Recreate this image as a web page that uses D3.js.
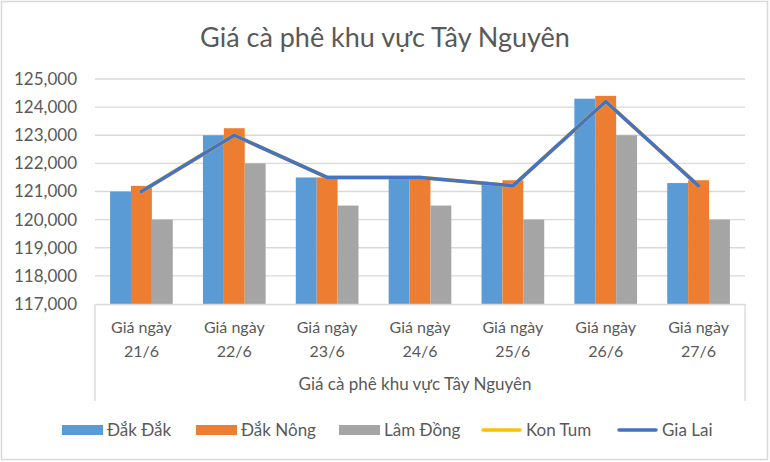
<!DOCTYPE html>
<html><head><meta charset="utf-8">
<script src="https://cdn.jsdelivr.net/npm/d3@7"></script>
<style>
html,body{margin:0;padding:0;background:#fff;}
text{font-family:Lato,"Noto Sans",sans-serif;fill:#595959;}
</style></head>
<body><svg id="c" width="770" height="462"></svg>
<script>
const categories = ["21/6","22/6","23/6","24/6","25/6","26/6","27/6"];
const categoryPrefix = "Giá ngày";
const daKDak   = [121000,123000,121500,121500,121300,124300,121300];
const dakNong  = [121200,123250,121500,121500,121400,124400,121400];
const lamDong  = [120000,122000,120500,120500,120000,123000,120000];
const konTum   = [121000,123000,121500,121500,121200,124200,121200];
const giaLai   = [121000,123000,121500,121500,121200,124200,121200];
const yTicks   = [117000,118000,119000,120000,121000,122000,123000,124000,125000];
const barSeries = [
  {name:"Đắk Đắk", values:daKDak, color:"#5B9BD5"},
  {name:"Đắk Nông", values:dakNong, color:"#ED7D31"},
  {name:"Lâm Đồng", values:lamDong, color:"#A5A5A5"}
];
const lineSeries = [
  {name:"Kon Tum", values:konTum, color:"#FFC000"},
  {name:"Gia Lai", values:giaLai, color:"#4472C4"}
];
const title = "Giá cà phê khu vực Tây Nguyên";
const axisTitle = "Giá cà phê khu vực Tây Nguyên";

const svg = d3.select("#c");
svg.append("rect").attr("x",1.5).attr("y",1.5).attr("width",766).attr("height",458)
  .attr("fill","#fff").attr("stroke","#d9d9d9").attr("stroke-width",1.5);

const L=95, R=745, T=79, B=304;
const x = d3.scaleBand().domain(categories).range([L,R]).paddingInner(0.325).paddingOuter(0.1625);
const xs = d3.scaleBand().domain(barSeries.map(s=>s.name)).range([0,x.bandwidth()]);
const y = d3.scaleLinear().domain([117000,125000]).range([B,T]);

svg.append("text").attr("x",385).attr("y",47).attr("text-anchor","middle")
  .style("font-size","27px").text(title);

// gridlines
svg.append("g").selectAll("line").data(yTicks.slice(1)).join("line")
  .attr("x1",L).attr("x2",R).attr("y1",d=>y(d)).attr("y2",d=>y(d))
  .attr("stroke","#d9d9d9").attr("stroke-width",1.3);

// y axis labels
const ya = svg.append("g").attr("transform",`translate(${L},0)`)
  .call(d3.axisLeft(y).tickValues(yTicks).tickSize(0).tickPadding(18).tickFormat(d3.format(",")));
ya.select(".domain").remove();
ya.selectAll("text").style("font-size","17px").style("font-family","Lato,'Noto Sans',sans-serif").attr("fill","#595959");

// bars
barSeries.forEach(s=>{
  svg.append("g").selectAll("rect").data(s.values).join("rect")
    .attr("x",(d,i)=>x(categories[i])+xs(s.name))
    .attr("width",xs.bandwidth())
    .attr("y",d=>y(d)).attr("height",d=>B-y(d))
    .attr("fill",s.color);
});

// lines
const lineGen = d3.line().x((d,i)=>x(categories[i])+x.bandwidth()/2).y(d=>y(d));
lineSeries.forEach(s=>{
  svg.append("path").datum(s.values).attr("d",lineGen)
    .attr("fill","none").attr("stroke",s.color).attr("stroke-width",s.name==="Gia Lai"?3.5:3.8)
    .attr("stroke-linejoin","round").attr("stroke-linecap","round");
});

// category axis box
const xa = svg.append("g").attr("transform",`translate(0,${B})`)
  .call(d3.axisBottom(x).tickSize(0).tickFormat(()=>""));
xa.select(".domain").attr("stroke","#d9d9d9").attr("stroke-width",1.3);
svg.append("line").attr("x1",L).attr("x2",L).attr("y1",B).attr("y2",401).attr("stroke","#d9d9d9").attr("stroke-width",1.3);
svg.append("line").attr("x1",R).attr("x2",R).attr("y1",B).attr("y2",401).attr("stroke","#d9d9d9").attr("stroke-width",1.3);

const cl = svg.append("g").selectAll("text").data(categories).join("text")
  .attr("x",d=>x(d)+x.bandwidth()/2).attr("text-anchor","middle").style("font-size","16px");
cl.append("tspan").attr("x",d=>x(d)+x.bandwidth()/2).attr("y",333).text(categoryPrefix);
cl.append("tspan").attr("x",d=>x(d)+x.bandwidth()/2).attr("y",357).text(d=>d);

svg.append("text").attr("x",(L+R)/2-5).attr("y",390).attr("text-anchor","middle")
  .style("font-size","17px").text(axisTitle);

// legend
const legendX = [62,196,339,481,617];
const leg = [...barSeries.map(s=>({...s,type:"bar"})), ...lineSeries.map(s=>({...s,type:"line"}))];
leg.forEach((s,i)=>{
  const g = svg.append("g").attr("transform",`translate(${legendX[i]},430)`);
  if(s.type==="bar") g.append("rect").attr("x",0).attr("y",-5).attr("width",41).attr("height",10).attr("fill",s.color);
  else g.append("line").attr("x1",2).attr("x2",39).attr("y1",0).attr("y2",0).attr("stroke",s.color).attr("stroke-width",3.5).attr("stroke-linecap","round");
  g.append("text").attr("x",45).attr("y",6).style("font-size","17px").text(s.name);
});
</script></body></html>
